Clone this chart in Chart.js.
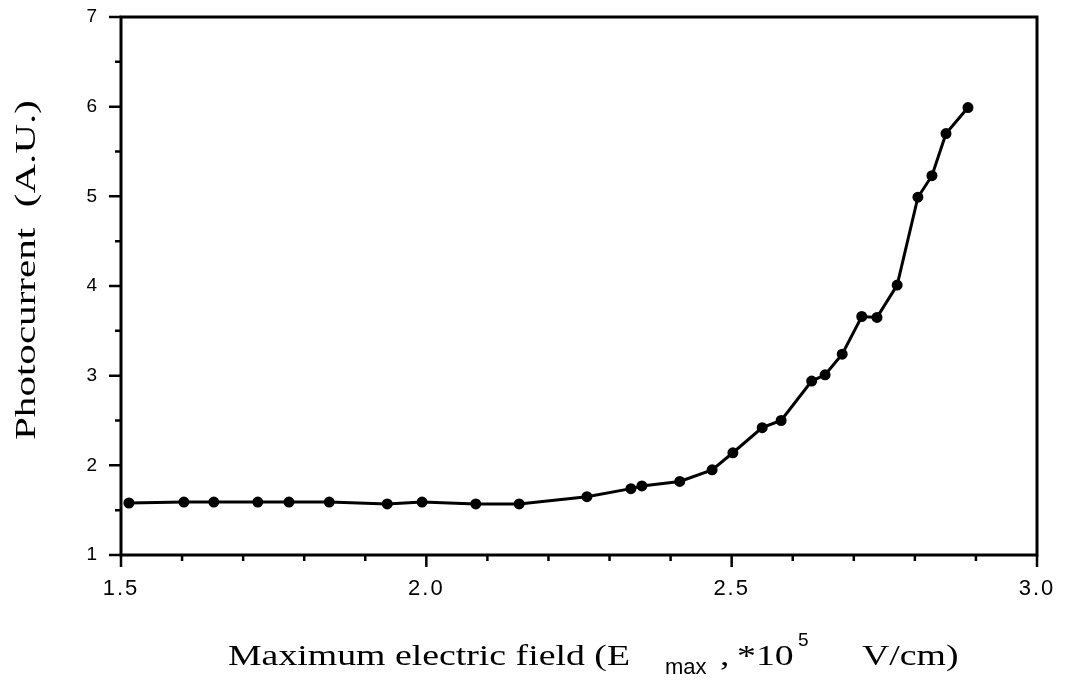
<!DOCTYPE html>
<html>
<head>
<meta charset="utf-8">
<script src="https://cdn.jsdelivr.net/npm/chart.js@4.4.0/dist/chart.umd.min.js"></script>
<style>
	html, body { margin: 0; padding: 0; background: #fff; }
	#wrap { width: 1071px; height: 681px; }
</style>
</head>
<body>
<div id="wrap"><canvas id="chart"></canvas></div>
<script>
	// Maximum electric field, *10^5 V/cm
	var fieldValues = [1.513, 1.603, 1.652, 1.724, 1.775, 1.841, 1.936, 1.993, 2.081, 2.152,
		2.263, 2.335, 2.353, 2.415, 2.468, 2.502, 2.550, 2.581, 2.631, 2.653,
		2.681, 2.713, 2.738, 2.771, 2.805, 2.828, 2.851, 2.887];
	// Photocurrent, A.U.
	var photocurrentValues = [1.58, 1.59, 1.59, 1.59, 1.59, 1.59, 1.57, 1.59, 1.57, 1.57,
		1.65, 1.74, 1.77, 1.82, 1.95, 2.14, 2.42, 2.50, 2.94, 3.01,
		3.24, 3.66, 3.65, 4.01, 4.99, 5.23, 5.70, 5.99];
	var xTickLabels = ['1.5', '2.0', '2.5', '3.0'];
	var yTickLabels = ['1', '2', '3', '4', '5', '6', '7'];

	var points = fieldValues.map(function (x, i) {
		return {x: x, y: photocurrentValues[i]};
	});

	// frame, tick marks and axis titles drawn like the original figure
	var framePlugin = {
		id: 'frame',
		beforeDraw: function (chart) {
			// the scanned tick labels are set a little wider than Arial
			chart.ctx.letterSpacing = '2px';
		},
		afterDraw: function (chart) {
			var ctx = chart.ctx,
				area = chart.chartArea,
				xs = chart.scales.x,
				ys = chart.scales.y,
				v;

			ctx.letterSpacing = '0px';
			ctx.save();
			ctx.strokeStyle = '#000';
			ctx.lineWidth = 3;
			ctx.strokeRect(area.left, area.top, area.right - area.left, area.bottom - area.top);

			ctx.lineWidth = 2.5;
			ctx.beginPath();
			for (v = 15; v <= 30; v++) {
				var px = xs.getPixelForValue(v / 10);
				ctx.moveTo(px, area.bottom);
				ctx.lineTo(px, area.bottom + (v % 5 === 0 ? 12 : 6));
			}
			for (v = 2; v <= 14; v++) {
				var py = ys.getPixelForValue(v / 2);
				ctx.moveTo(area.left, py);
				ctx.lineTo(area.left - (v % 2 === 0 ? 12 : 6), py);
			}
			ctx.stroke();

			ctx.fillStyle = '#000';
			ctx.textBaseline = 'alphabetic';
			ctx.textAlign = 'left';

			// x title with subscript and superscript
			var serif = '30px "Liberation Serif", "Times New Roman", serif',
				sans = 'Arial, sans-serif';
			ctx.font = serif;
			var first = 'Maximum electric field (E';
			var sx = 402 / ctx.measureText(first).width;
			var base = 665;
			function put(text, x, y, font, stretch) {
				ctx.save();
				ctx.font = font;
				ctx.translate(x, y);
				ctx.scale(stretch, 1);
				ctx.fillText(text, 0, 0);
				ctx.restore();
			}
			put(first, 228, base, serif, sx);
			put('max', 665, base + 9, '22px ' + sans, 1);
			put(',', 720, base, serif, sx);
			put('*10', 737, base, serif, sx);
			put('5', 798, base - 19, '19px ' + sans, 1);
			put('V/cm)', 862, base, serif, sx);

			// y title
			ctx.font = serif;
			var yTitle = 'Photocurrent  (A.U.)';
			var sy = 340 / ctx.measureText(yTitle).width;
			ctx.save();
			ctx.translate(35, 440);
			ctx.rotate(-Math.PI / 2);
			ctx.scale(sy, 1);
			ctx.fillText(yTitle, 0, 0);
			ctx.restore();

			ctx.restore();
		}
	};

	function noEdgePadding(scale) {
		scale.paddingTop = 0;
		scale.paddingBottom = 0;
		scale.paddingLeft = 0;
		scale.paddingRight = 0;
	}

	new Chart(document.getElementById('chart'), {
		type: 'scatter',
		data: {
			datasets: [{
				data: points,
				showLine: true,
				borderColor: '#000',
				backgroundColor: '#000',
				borderWidth: 3,
				pointRadius: 4,
				pointHoverRadius: 4,
				tension: 0
			}]
		},
		options: {
			responsive: true,
			maintainAspectRatio: false,
			animation: false,
			events: [],
			layout: {padding: {top: 17, right: 34, left: 0, bottom: 0}},
			plugins: {
				legend: {display: false},
				tooltip: {enabled: false}
			},
			scales: {
				x: {
					type: 'linear',
					min: 1.5,
					max: 3.0,
					grid: {display: false},
					border: {display: false},
					afterFit: function (scale) {
						scale.height = 126;
						noEdgePadding(scale);
					},
					ticks: {
						stepSize: 0.5,
						padding: 13,
						color: '#000',
						font: {family: 'Arial, sans-serif', size: 22},
						callback: function (value) {
							return xTickLabels.indexOf(value.toFixed(1)) > -1 ? value.toFixed(1) : '';
						}
					}
				},
				y: {
					min: 1,
					max: 7,
					grid: {display: false},
					border: {display: false},
					afterFit: function (scale) {
						scale.width = 121;
						noEdgePadding(scale);
					},
					ticks: {
						stepSize: 1,
						padding: 14,
						color: '#000',
						font: {family: 'Arial, sans-serif', size: 19},
						callback: function (value) {
							return yTickLabels.indexOf(String(value)) > -1 ? String(value) : '';
						}
					}
				}
			}
		},
		plugins: [framePlugin]
	});
</script>
</body>
</html>
